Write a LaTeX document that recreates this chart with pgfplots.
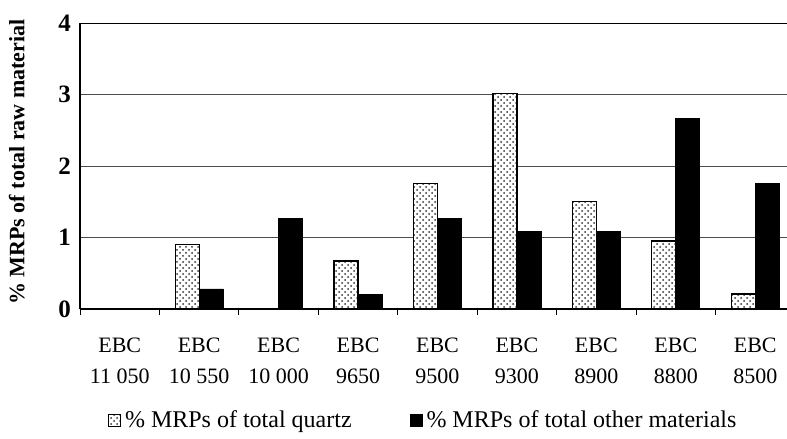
\documentclass[border=0pt]{standalone}
\usepackage{fontspec}
\setmainfont{Liberation Serif}
\usepackage{pgfplots}
\pgfplotsset{compat=1.18}
\usetikzlibrary{patterns}

\begin{document}
\begin{tikzpicture}
\path[use as bounding box] (-40pt,-65pt) rectangle (353.5pt,154.5pt);
\begin{axis}[
    at={(0pt,0pt)}, anchor=south west,
    scale only axis,
    width=357.5pt, height=143pt,
    ybar=0pt, bar width=12pt,
    xmin=-0.5, xmax=8.5,
    ymin=0, ymax=4,
    ytick={0,1,2,3,4},
    xtick={0,...,8},
    xticklabels={{EBC\\11 050},{EBC\\10 550},{EBC\\10 000},{EBC\\9650},{EBC\\9500},{EBC\\9300},{EBC\\8900},{EBC\\8800},{EBC\\8500}},
    minor xtick={-0.5,0.5,...,8.5},
    major tick length=0pt,
    minor tick length=3pt,
    tick align=outside,
    xtick pos=bottom, ytick pos=left,
    axis x line*=bottom, axis y line*=left,
    axis line style={-, black, line width=0.6pt},
    ymajorgrids,
    grid style={black!70, line width=0.4pt},
    minor tick style={black, line width=0.4pt},
    /pgf/number format/assume math mode=true,
    xticklabel style={align=center, font=\fontsize{11}{15.5}\selectfont, yshift=-11pt},
    yticklabel style={font=\fontsize{12.5}{14}\selectfont\bfseries, xshift=-1pt},
    ylabel={\% MRPs of total raw material},
    ylabel style={font=\fontsize{11}{14}\selectfont\bfseries, yshift=10pt, xshift=2pt},
    legend style={at={(0.039,-0.39)}, anchor=west, draw=none, fill=none,
        inner sep=0pt, outer sep=0pt,
        font=\fontsize{12}{14}\selectfont, legend columns=2,
        /tikz/every even column/.append style={column sep=27pt}},
    legend cell align=left,
    legend image code/.code={\draw[#1] (0pt,-3pt) rectangle (6pt,3pt);},
]
\addplot[draw=black, line width=0.6pt, fill=white, postaction={pattern=crosshatch dots, pattern color=black!80}]
    coordinates {(0,0) (1,0.90) (2,0) (3,0.67) (4,1.76) (5,3.01) (6,1.50) (7,0.95) (8,0.21)};
\addplot[draw=black, fill=black]
    coordinates {(0,0) (1,0.28) (2,1.27) (3,0.20) (4,1.27) (5,1.09) (6,1.09) (7,2.66) (8,1.76)};
\draw[black, line width=0.9pt] (axis cs:-0.5,4) -- (axis cs:8.5,4);
\legend{\% MRPs of total quartz, \% MRPs of total other materials}
\end{axis}
\end{tikzpicture}
\end{document}
